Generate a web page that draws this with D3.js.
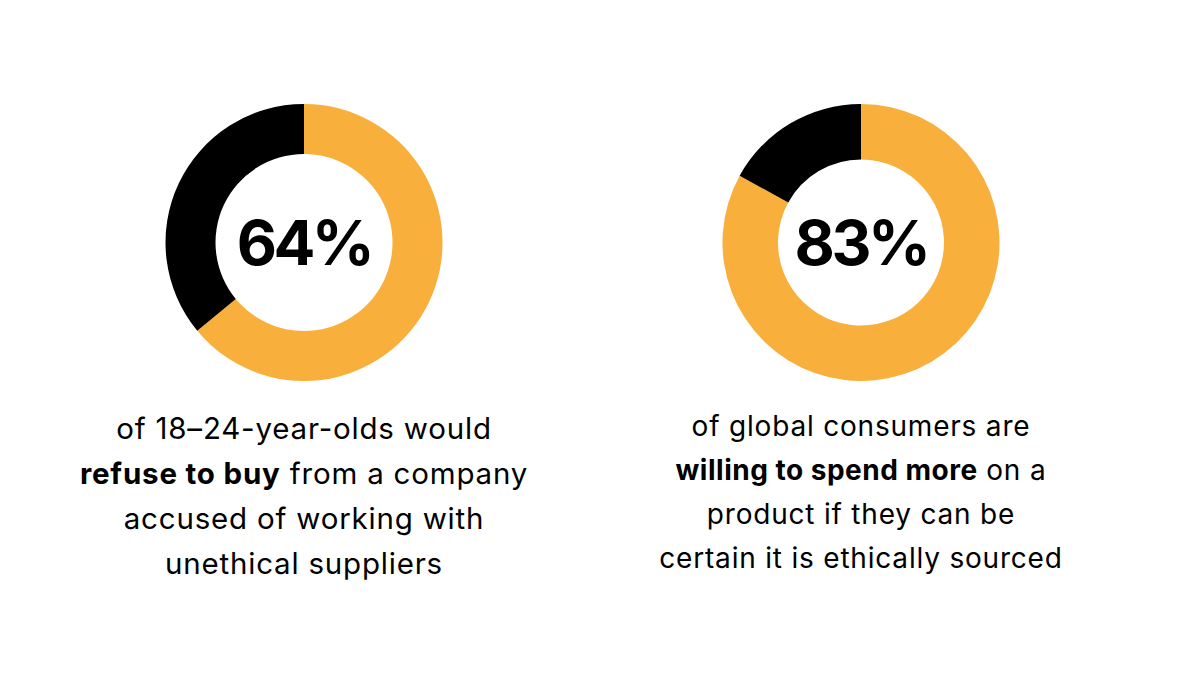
<!DOCTYPE html>
<html><head><meta charset="utf-8">
<script src="https://cdn.jsdelivr.net/npm/d3@7"></script>
<style>html,body{margin:0;padding:0;background:#fff;}svg{display:block;}</style>
</head><body>
<svg id="chart" width="1200" height="700"></svg>
<script>
// Data
const stats = ["64%", "83%"];
const shares = [64, 83];             // orange share (percent)
const remainders = [36, 17];         // black share (percent)
const captionLeft = [
  [["of 18–24-year-olds would", false]],
  [["refuse to buy", true], [" from a company", false]],
  [["accused of working with", false]],
  [["unethical suppliers", false]]
];
const captionRight = [
  [["of global consumers are", false]],
  [["willing to spend more", true], [" on a", false]],
  [["product if they can be", false]],
  [["certain it is ethically sourced", false]]
];
const colors = ["#F8AF3C", "#000000"];

const svg = d3.select("#chart");
const FONT = "Inter, 'Open Sans', sans-serif";

const panels = [
  {cx: 304, cy: 242.5, r: 138.5, ir: 88.5, stat: stats[0], vals: [shares[0], remainders[0]], cap: captionLeft, capY: 439, lh: 45, fs: 29.5, bls: 0.8},
  {cx: 861, cy: 242.5, r: 138.5, ir: 83, stat: stats[1], vals: [shares[1], remainders[1]], cap: captionRight, capY: 435.5, lh: 44, fs: 28, bls: 0.5}
];

const pie = d3.pie().sort(null).value(d => d);
panels.forEach(p => {
  const g = svg.append("g").attr("transform", `translate(${p.cx},${p.cy})`);
  const arc = d3.arc().innerRadius(p.ir).outerRadius(p.r);
  g.selectAll("path").data(pie(p.vals)).join("path")
    .attr("d", arc).attr("fill", (d, i) => colors[i]);
  g.append("text").attr("text-anchor", "middle").attr("y", 22.5).attr("x", 0)
    .attr("font-family", FONT).attr("font-size", 62).attr("font-weight", 700)
    .attr("letter-spacing", -3.5)
    .attr("fill", "#000").text(p.stat);
  p.cap.forEach((line, li) => {
    const t = svg.append("text").attr("x", p.cx).attr("y", p.capY + li * p.lh)
      .attr("text-anchor", "middle").attr("font-family", FONT).attr("font-size", p.fs)
      .attr("letter-spacing", 0.8).attr("fill", "#000");
    line.forEach(([s, b]) => {
      t.append("tspan").attr("font-weight", b ? 700 : 400)
        .attr("letter-spacing", b ? p.bls : 0.8).text(s);
    });
  });
});
</script>
</body></html>
